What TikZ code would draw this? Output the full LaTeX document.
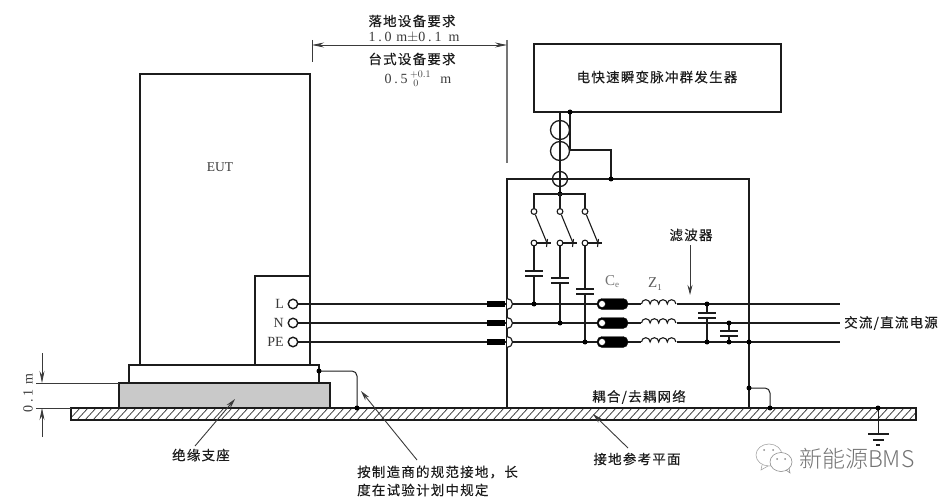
\documentclass[tikz,border=0pt]{standalone}
\usepackage{fontspec}
\setmainfont{Liberation Serif}
\newfontfamily\cjk[LetterSpace=9,FakeBold=0.25]{Noto Sans CJK SC}
\newfontfamily\wm{Noto Sans CJK SC Light}
\newfontfamily\trk[LetterSpace=20]{Liberation Serif}
\usetikzlibrary{arrows.meta}
\definecolor{ink}{HTML}{1C1C1C}
\definecolor{soft}{HTML}{3A3A3A}
\tikzset{
  box/.style={draw=ink,line width=1.5pt,anchor=north west,inner sep=0pt,outer sep=0pt},
  wire/.style={draw=ink,line width=1.3pt},
  thin wire/.style={draw=soft,line width=.9pt},
  pointer/.style={thin wire,-{Stealth[length=10pt,width=5pt]}},
  dimarrow/.style={thin wire,{Stealth[length=12pt,width=5pt]}-{Stealth[length=12pt,width=5pt]}},
  dot/.style={circle,fill=black,inner sep=0pt,minimum size=5pt},
  port/.style={circle,draw=ink,line width=1.4pt,fill=white,inner sep=0pt,minimum size=9.5pt},
  swcontact/.style={circle,draw=ink,line width=1.1pt,fill=white,inner sep=0pt,minimum size=5.8pt},
  ring/.style={circle,draw=ink,line width=1.3pt,inner sep=0pt},
  block/.style={fill=black,inner sep=0pt,minimum width=18pt,minimum height=6.5pt},
  core/.style={draw=ink,fill=black,rounded corners=5pt,inner sep=0pt,minimum width=31pt,minimum height=11pt},
  corehole/.style={circle,fill=white,draw=black,line width=.5pt,inner sep=0pt,minimum size=7pt},
  label/.style={font=\cjk\fontsize{13.5}{15}\selectfont,text=ink,inner sep=0pt},
  latin/.style={font=\fontsize{14}{16}\selectfont,text=soft,inner sep=0pt},
  spaced/.style={font=\trk\fontsize{14}{16}\selectfont,text=soft,inner sep=0pt},
  plate/.style={draw=ink,line width=1.3pt},
}
\begin{document}
\begin{tikzpicture}[x=1pt,y=-1pt]
\useasboundingbox (0,0) rectangle (946,500);
% ground plate
\begin{scope}
\clip (71,408) rectangle (916,420);
\foreach \h in {60,68,...,930} \draw[soft,line width=.75pt] (\h,421) -- (\h+13,407);
\end{scope}
\node[box,minimum width=845pt,minimum height=12pt] (plane) at (71,408) {};
% EUT
\node[box,fill=white,minimum width=170pt,minimum height=291pt] (eut) at (140,74) {};
\node[box,fill=white,minimum width=55pt,minimum height=89pt] (sub) at (255,276) {};
\node[box,fill=white,minimum width=190pt,minimum height=18pt] (table) at (129,365) {};
\node[box,fill=black!21,minimum width=211pt,minimum height=25pt] (base) at (119,383) {};
\node[latin,font=\fontsize{13.5}{15}\selectfont] (eutl) at (220,167) {EUT};
% CDN and generator
\node[box,minimum width=242pt,minimum height=229pt] (cdn) at (507,179) {};
\node[box,minimum width=247pt,minimum height=68pt] (gen) at (534,44) {};
\node[label] (genl) at (657,77) {电快速瞬变脉冲群发生器};
\node[label] (filtl) at (691,235) {滤波器};
\node[label] (cdnl) at (639,397) {耦合/去耦网络};
\node[label,anchor=west] (acl) at (844,323) {交流/直流电源};
% coupling clamp
\coordinate (g1) at (560,112);
\coordinate (g2) at (570,112);
\coordinate (bus) at (560,194);
\node[ring,minimum size=19pt] (r1) at (560,130) {};
\node[ring,minimum size=19pt] (r2) at (560,151) {};
\node[ring,minimum size=15pt] (r3) at (560,179) {};
\draw[wire] (g1) -- (bus);
\draw[wire] (g2) -- (570,150) -- (611,150) coordinate (k) -- (611,179) coordinate (kd);
\draw[wire] (r3.west) -- (r3.east);
\node[dot] at (g2) {};
\node[dot] (kdot) at (kd) {};
\node[dot] (busd) at (bus) {};
% terminals
\foreach \n/\t/\y in {L/L/304,N/N/323,PE/PE/342}{
  \node[port] (t\n) at (293,\y) {};
  \node[latin,anchor=east] (tl\n) at (284,\y) {\t};
  \coordinate (e\n) at (840,\y);
  \draw[wire] (t\n) -- (e\n);
  \node[block] (b\n) at (496,\y) {};
  \fill[white,draw=ink,line width=1.2pt] (507,\y-5.5) arc[start angle=90,end angle=-90,radius=5.5pt];
  \node[core] (c\n) at (612.5,\y) {};
  \node[corehole] at (602,\y) {};
  \fill[white] (641,\y-1) rectangle (677,\y+1);
  \draw[ink,line width=1.1pt] (641.5,\y) arc[start angle=180,end angle=0,radius=4.3pt]
    arc[start angle=180,end angle=0,radius=4.3pt]
    arc[start angle=180,end angle=0,radius=4.3pt]
    arc[start angle=180,end angle=0,radius=4.3pt];
}
% switches with capacitors
\draw[wire] (534,211) -- (534,194) -- (585,194) -- (585,211);
\draw[wire] (bus) -- (560,211);
\foreach \x/\pa/\py/\ty in {534/271/304/L,560/278/323/N,585/289/342/PE}{
  \node[swcontact] (sa\x) at (\x,211.5) {};
  \node[swcontact] (sb\x) at (\x,243) {};
  \draw[wire,line width=1.1pt] (sa\x) -- (\x+13,243);
  \draw[wire,line width=1.1pt] (sb\x) -- (\x+17,243);
  \draw[wire,line width=1.1pt] (\x+13.5,239) -- (\x+12.5,247);
  \draw[wire] (sb\x) -- (\x,\pa);
  \draw[plate] (\x-9,\pa) -- (\x+9,\pa);
  \draw[plate] (\x-9,\pa+5) -- (\x+9,\pa+5);
  \draw[wire] (\x,\pa+5) -- (\x,\py);
  \node[dot] at (\x,\py) {};
}
% filter capacitors
\draw[wire] (707,304) -- (707,313); \draw[wire] (707,318) -- (707,342);
\draw[wire] (729,323) -- (729,331); \draw[wire] (729,336) -- (729,342);
\foreach \p in {(707,304),(707,342),(729,323),(729,342),(749,342)} \node[dot] at \p {};
\fill[white] (725,332) rectangle (733,335);
\fill[white] (703,314) rectangle (711,317);
\draw[plate] (698,313) -- (716,313); \draw[plate] (698,318) -- (716,318);
\draw[plate] (720,331) -- (738,331); \draw[plate] (720,336) -- (738,336);
\node[font=\fontsize{15}{17}\selectfont,text=black!55,inner sep=0pt] (cel) at (612,282) {C\raisebox{-2pt}{\fontsize{9}{10}\selectfont e}};
\node[font=\fontsize{15}{17}\selectfont,text=black!65,inner sep=0pt] (zl) at (655,284) {Z\raisebox{-2.5pt}{\fontsize{9}{10}\selectfont 1}};
\coordinate (fa) at (690,245); \coordinate (fb) at (690,295);
\draw[pointer] (fa) -- (fb);
% grounding straps
\coordinate (s1) at (319,371); \coordinate (s2) at (357,408);
\draw[wire,rounded corners=5pt,line width=1pt] (s1) -- (357,371) -- (s2);
\node[dot] at (s1) {}; \node[dot] at (s2) {};
\coordinate (s3) at (749,388); \coordinate (s4) at (770,408);
\draw[wire,rounded corners=5pt,line width=1pt] (s3) -- (770,388) -- (s4);
\node[dot] at (s3) {}; \node[dot] at (s4) {};
% earth
\coordinate (ea) at (878,408); \coordinate (eb) at (878,434);
\draw[wire,line width=1pt] (ea) -- (eb);
\node[dot] at (ea) {};
\draw[plate,line width=1.1pt] (868,434) -- (889,434);
\draw[plate,line width=1.1pt] (873,440) -- (884,440);
\draw[plate,line width=1.1pt] (876,445) -- (880,445);
% top dimension
\coordinate (d1) at (312,45); \coordinate (d2) at (507,45);
\draw[thin wire,line width=1pt] (312,40) -- (312,62);
\draw[draw=soft!70,line width=1.1pt] (507,40) -- (507,163);
\draw[dimarrow] (d1) -- (d2);
\node[label] (t1) at (412,21) {落地设备要求};
\node[spaced] (t2) at (414,37) {1.0\,\,m$\pm$0.1\,\,\,m};
\node[label] (t3) at (412,59) {台式设备要求};
\node[spaced] (t4) at (418,79) {0.5\,$^{+0.1}_{\,\,0}$\,\,\,\,m};
% left dimension
\draw[thin wire] (36,383) -- (119,383);
\draw[thin wire] (36,408) -- (71,408);
\coordinate (l1) at (42,353); \coordinate (l2) at (42,383);
\coordinate (l3) at (42,437); \coordinate (l4) at (42,408);
\draw[thin wire,-{Stealth[length=12pt,width=5pt]}] (l1) -- (l2);
\draw[thin wire,-{Stealth[length=12pt,width=5pt]}] (l3) -- (l4);
\node[spaced,rotate=90] (dl) at (28,393) {0.1\,\,m};
% pointers and labels
\node[label] (supl) at (201,455) {绝缘支座};
\coordinate (p1) at (195,446); \coordinate (p2) at (235,399);
\draw[pointer] (p1) -- (p2);
\node[label,anchor=west] (n1) at (357,472) {按制造商的规范接地，长};
\node[label,anchor=west] (n2) at (357,490) {度在试验计划中规定};
\coordinate (p3) at (417,460); \coordinate (p4) at (361,391);
\draw[pointer] (p3) -- (p4);
\node[label] (gl) at (637,459) {接地参考平面};
\coordinate (p5) at (628,448); \coordinate (p6) at (593,414);
\draw[pointer] (p5) -- (p6);
% watermark
\draw[black!35,fill=white,line width=.6pt] (769,455) ellipse[x radius=13pt,y radius=11pt];
\draw[black!35,line width=.6pt] (762,465) -- (761,470) -- (768,466);
\draw[black!45,fill=white,line width=.6pt] (781,462) ellipse[x radius=11pt,y radius=9.5pt];
\draw[black!45,line width=.6pt] (786,470) -- (790,473) -- (789,468);
\foreach \p in {(764,450),(773,450),(777,459),(785,459)} \fill[black!45] \p circle[radius=1pt];
\node[font=\wm\fontsize{23}{25}\selectfont,text=black!55,inner sep=0pt,anchor=west] (wmk) at (799,459) {新能源BMS};
\end{tikzpicture}
\end{document}
